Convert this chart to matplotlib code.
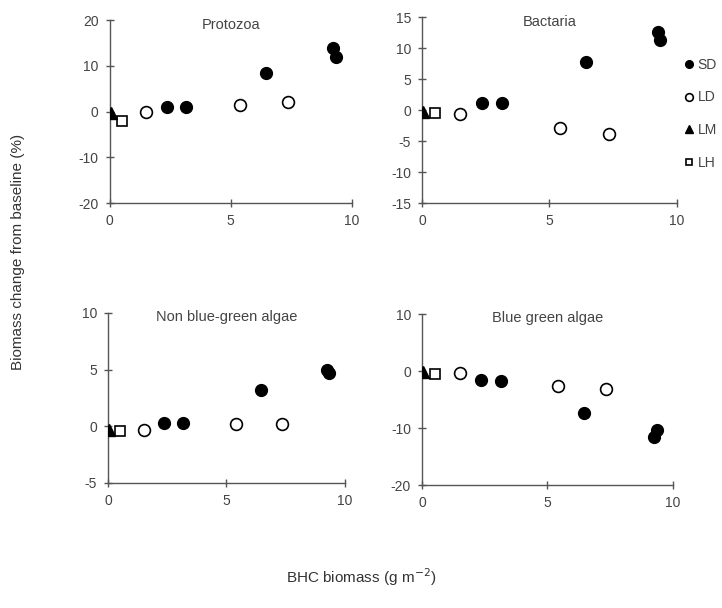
import matplotlib
matplotlib.use("Agg")
import matplotlib.pyplot as plt

plt.rcParams['font.family'] = ['Liberation Sans', 'DejaVu Sans']
plt.rcParams['axes.unicode_minus'] = False

# BHC biomass (x) per treatment
sd_x = [2.35, 3.15, 6.45, 9.25, 9.35]
ld_x = [1.5, 5.4, 7.35]
lm_x = [0.05]
lh_x = [0.5]

panels = ["Protozoa", "Bactaria", "Non blue-green algae", "Blue green algae"]

# biomass change (%) per panel, per treatment
sd_y = [[1.0, 1.0, 8.4, 13.9, 11.9],
        [1.1, 1.2, 7.8, 12.6, 11.3],
        [0.3, 0.3, 3.2, 5.0, 4.7],
        [-1.6, -1.7, -7.4, -11.6, -10.4]]
ld_y = [[0.0, 1.4, 2.1],
        [-0.6, -2.9, -3.8],
        [-0.3, 0.2, 0.2],
        [-0.3, -2.7, -3.2]]
lm_y = [[-0.3], [-0.3], [-0.3], [-0.2]]
lh_y = [[-2.0], [-0.5], [-0.4], [-0.5]]

ylims = [(-20, 20), (-15, 15), (-5, 10), (-20, 10)]
yticks = [[-20, -10, 0, 10, 20], [-15, -10, -5, 0, 5, 10, 15],
          [-5, 0, 5, 10], [-20, -10, 0, 10]]
xticks = [0, 5, 10]
legend_labels = ["SD", "LD", "LM", "LH"]

fig = plt.figure(figsize=(7.22, 6.08), dpi=100)
positions = [[0.152, 0.666, 0.335, 0.301],
             [0.5845, 0.666, 0.353, 0.306],
             [0.1496, 0.2056, 0.328, 0.2796],
             [0.5845, 0.2023, 0.3476, 0.281]]

axes = []
for i, pos in enumerate(positions):
    ax = fig.add_axes(pos)
    axes.append(ax)
    ms = 8.5
    ax.plot(sd_x, sd_y[i], 'o', color='black', ms=ms, ls='none', label=legend_labels[0], zorder=3)
    ax.plot(ld_x, ld_y[i], 'o', mfc='white', mec='black', mew=1.2, ms=ms, ls='none', label=legend_labels[1], zorder=3)
    ax.plot(lm_x, lm_y[i], '^', color='black', ms=ms, ls='none', label=legend_labels[2], zorder=4)
    ax.plot(lh_x, lh_y[i], 's', mfc='white', mec='black', mew=1.2, ms=ms - 1.5, ls='none', label=legend_labels[3], zorder=3)
    ax.set_xlim(0, 10)
    ax.set_ylim(*ylims[i])
    ax.set_xticks(xticks)
    ax.set_yticks(yticks[i])
    for s in ['top', 'right']:
        ax.spines[s].set_visible(False)
    for s in ['left', 'bottom']:
        ax.spines[s].set_color('#555555')
        ax.spines[s].set_linewidth(1.0)
    ax.tick_params(direction='inout', length=6, width=1.0, color='#555555',
                   labelsize=10, labelcolor='#444444', pad=5)
    ax.text(0.5, 0.975, panels[i], transform=ax.transAxes, ha='center', va='center',
            fontsize=10.5, color='#444444')
    for sp in ax.spines.values():
        sp.set_clip_on(False)

axes[1].legend(loc='center left', bbox_to_anchor=(1.0, 0.48), frameon=False,
               handletextpad=0.1, labelspacing=1.35, handlelength=1.0,
               markerscale=0.65, fontsize=10, labelcolor='#444444', borderaxespad=0)

fig.text(0.025, 0.585, "Biomass change from baseline (%)", rotation=90,
         ha='center', va='center', fontsize=11, color='#333333')
fig.text(0.5, 0.05, "BHC biomass (g m$^{-2}$)", ha='center', va='center',
         fontsize=11, color='#333333')

fig.savefig("out.png", dpi=100)
